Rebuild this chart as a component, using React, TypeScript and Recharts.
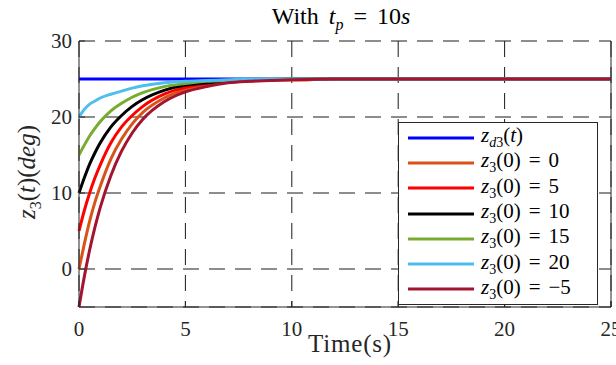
import React from "react"
import { LineChart, Line, XAxis, YAxis, CartesianGrid } from "recharts"

const time = [0, 0.25, 0.5, 0.75, 1, 1.5, 2, 2.5, 3, 4, 5, 6, 7, 8, 9, 10, 12, 15, 20, 25]
const zd3 = [25, 25, 25, 25, 25, 25, 25, 25, 25, 25, 25, 25, 25, 25, 25, 25, 25, 25, 25, 25]
const z0 = [0, 3.3, 6.3, 8.8, 10.9, 14.5, 17.1, 19.1, 20.6, 22.5, 23.6, 24.2, 24.6, 24.7, 24.9, 24.9, 25, 25, 25, 25]
const z5 = [5, 7.7, 10, 12, 13.7, 16.6, 18.7, 20.2, 21.4, 23, 23.9, 24.4, 24.6, 24.8, 24.9, 24.9, 25, 25, 25, 25]
const z10 = [10, 12, 13.8, 15.3, 16.6, 18.7, 20.2, 21.4, 22.3, 23.5, 24.2, 24.5, 24.7, 24.8, 24.9, 25, 25, 25, 25, 25]
const z15 = [15, 16.3, 17.5, 18.5, 19.4, 20.8, 21.8, 22.6, 23.2, 24, 24.4, 24.7, 24.8, 24.9, 25, 25, 25, 25, 25, 25]
const z20 = [20, 21, 21.7, 22.1, 22.5, 23, 23.4, 23.8, 24.1, 24.5, 24.7, 24.8, 24.9, 25, 25, 25, 25, 25, 25, 25]
const zm5 = [-5, -1, 2.5, 5.5, 8.1, 12.3, 15.5, 17.9, 19.7, 22, 23.3, 24, 24.5, 24.7, 24.8, 24.9, 25, 25, 25, 25]

const xTicks = [0, 5, 10, 15, 20, 25]
const yTicks = [0, 10, 20, 30]

const series = [
  { key: "zd3", color: "#0000ff", sub: "d3", init: null },
  { key: "z0", color: "#d95319", sub: "3", init: "0" },
  { key: "z5", color: "#ff0000", sub: "3", init: "5" },
  { key: "z10", color: "#000000", sub: "3", init: "10" },
  { key: "z15", color: "#77ac30", sub: "3", init: "15" },
  { key: "z20", color: "#4dbeee", sub: "3", init: "20" },
  { key: "zm5", color: "#a2142f", sub: "3", init: "\u22125" },
]

const data = time.map((t, i) => ({
  t,
  zd3: zd3[i],
  z0: z0[i],
  z5: z5[i],
  z10: z10[i],
  z15: z15[i],
  z20: z20[i],
  zm5: zm5[i],
}))

const serif = "'Liberation Serif', 'DejaVu Serif', serif"
const axisColor = "#262626"

function BottomTick({ x, y, payload }: any) {
  return (
    <g>
      <line x1={x} x2={x} y1={y} y2={y - 6} stroke={axisColor} />
      <text x={x} y={y + 29} textAnchor="middle" fontFamily={serif} fontSize={21} fill="#262626">
        {payload.value}
      </text>
    </g>
  )
}

function TopTick({ x, y }: any) {
  return <line x1={x} x2={x} y1={y} y2={y + 6} stroke={axisColor} />
}

function LeftTick({ x, y, payload }: any) {
  return (
    <g>
      <line x1={x} x2={x + 6} y1={y} y2={y} stroke={axisColor} />
      <text x={x - 7} y={y} dy="0.35em" textAnchor="end" fontFamily={serif} fontSize={21} fill="#262626">
        {payload.value}
      </text>
    </g>
  )
}

function RightTick({ x, y }: any) {
  return <line x1={x} x2={x - 6} y1={y} y2={y} stroke={axisColor} />
}

function LegendBox() {
  return (
    <div
      style={{
        position: "absolute",
        left: 398,
        top: 122,
        border: "1px solid #262626",
        background: "#fff",
        padding: "2px 0",
        fontFamily: serif,
        fontSize: 21,
        width: 200,
        boxSizing: "border-box",
        color: "#000",
      }}
    >
      {series.map((s) => (
        <div key={s.key} style={{ display: "flex", alignItems: "center", height: 25.3 }}>
          <svg width={82} height={10} style={{ flex: "none" }}>
            <line x1={9} x2={75} y1={5} y2={5} stroke={s.color} strokeWidth={3} />
          </svg>
          <span style={{ whiteSpace: "nowrap", lineHeight: 1 }}>
            <i>z</i>
            <sub style={{ fontSize: 14 }}>{s.sub === "d3" ? <><i>d</i>3</> : "3"}</sub>
            {s.init === null ? (
              <>(<i>t</i>)</>
            ) : (
              <>
                (0)<span style={{ margin: "0 8px" }}>=</span>
                {s.init}
              </>
            )}
          </span>
        </div>
      ))}
    </div>
  )
}

export default function App() {
  return (
    <div style={{ position: "absolute", left: 0, top: 0, width: 616, height: 365, background: "#fff" }}>
      <div
        style={{
          position: "absolute",
          left: 0,
          width: 682,
          top: 3,
          textAlign: "center",
          fontFamily: serif,
          fontSize: 24,
          color: "#000",
          whiteSpace: "nowrap",
        }}
      >
        With<span style={{ marginLeft: 10 }} />
        <i>t</i>
        <sub style={{ fontSize: 16 }}>
          <i>p</i>
        </sub>
        <span style={{ margin: "0 10px" }}>=</span>10<i>s</i>
      </div>
      <div
        style={{
          position: "absolute",
          left: 29,
          top: 172,
          transform: "translate(-50%, -50%) rotate(-90deg)",
          fontFamily: serif,
          fontSize: 25,
          color: "#262626",
          whiteSpace: "nowrap",
        }}
      >
        <i>z</i>
        <sub style={{ fontSize: 16 }}>3</sub>(<i>t</i>)(<i>deg</i>)
      </div>
      <div
        style={{
          position: "absolute",
          left: 0,
          width: 700,
          top: 330,
          textAlign: "center",
          fontFamily: serif,
          fontSize: 25,
          letterSpacing: 0.8,
          color: "#262626",
          whiteSpace: "nowrap",
        }}
      >
        Time(s)
      </div>
      <LineChart width={616} height={365} data={data} margin={{ top: 41, right: 0, bottom: 0, left: 0 }}>
        <CartesianGrid stroke="#1a1a1a" strokeDasharray="16 10" strokeWidth={1} xAxisId="bottom" yAxisId="left" />
        <XAxis
          xAxisId="bottom"
          dataKey="t"
          type="number"
          domain={[0, 25]}
          ticks={xTicks}
          height={58}
          tickSize={0}
          tickMargin={0}
          tickLine={false}
          stroke={axisColor}
          tick={<BottomTick />}
          interval={0}
        />
        <XAxis
          xAxisId="top"
          orientation="top"
          dataKey="t"
          type="number"
          domain={[0, 25]}
          ticks={xTicks}
          height={0}
          tickSize={0}
          tickMargin={0}
          tickLine={false}
          stroke={axisColor}
          tick={<TopTick />}
          interval={0}
        />
        <YAxis
          yAxisId="left"
          type="number"
          domain={[-5, 30]}
          ticks={yTicks}
          width={79}
          tickSize={0}
          tickMargin={0}
          tickLine={false}
          stroke={axisColor}
          tick={<LeftTick />}
          interval={0}
        />
        <YAxis
          yAxisId="right"
          orientation="right"
          type="number"
          domain={[-5, 30]}
          ticks={yTicks}
          width={5}
          tickSize={0}
          tickMargin={0}
          tickLine={false}
          stroke={axisColor}
          tick={<RightTick />}
          interval={0}
        />
        {series.map((s) => (
          <Line
            key={s.key}
            xAxisId="bottom"
            yAxisId="left"
            type="monotone"
            dataKey={s.key}
            stroke={s.color}
            strokeWidth={3}
            dot={false}
            isAnimationActive={false}
          />
        ))}
      </LineChart>
      <LegendBox />
    </div>
  )
}
